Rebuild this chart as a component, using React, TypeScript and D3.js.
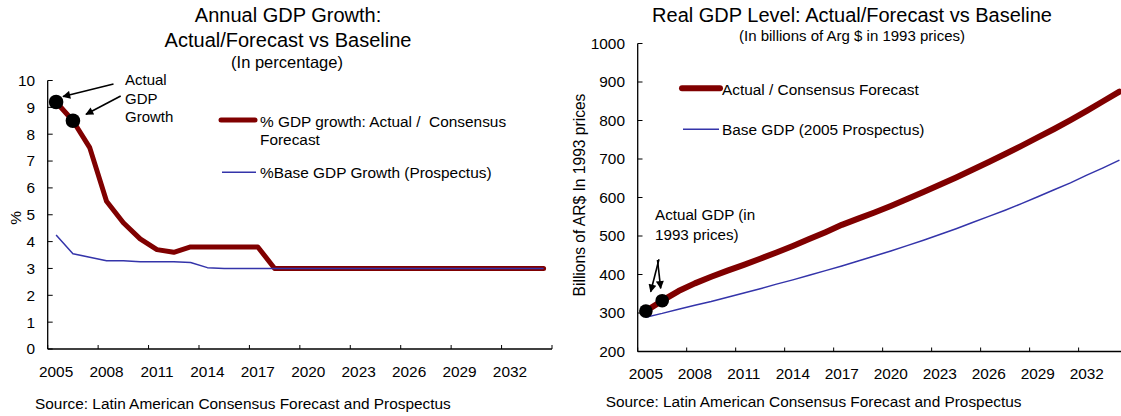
import React from "react";
import * as d3 from "d3";

const years = [2005, 2006, 2007, 2008, 2009, 2010, 2011, 2012, 2013, 2014, 2015, 2016, 2017, 2018, 2019, 2020, 2021, 2022, 2023, 2024, 2025, 2026, 2027, 2028, 2029, 2030, 2031, 2032, 2033, 2034];
const tickYears = [2005, 2008, 2011, 2014, 2017, 2020, 2023, 2026, 2029, 2032];

const growthActual = [9.2, 8.5, 7.5, 5.5, 4.7, 4.1, 3.7, 3.6, 3.8, 3.8, 3.8, 3.8, 3.8, 3.0, 3.0, 3.0, 3.0, 3.0, 3.0, 3.0, 3.0, 3.0, 3.0, 3.0, 3.0, 3.0, 3.0, 3.0, 3.0, 3.0];
const growthBase = [4.25, 3.55, 3.42, 3.29, 3.29, 3.25, 3.25, 3.25, 3.22, 3.03, 3.0, 3.0, 3.0, 3.0, 3.0, 3.0, 3.0, 3.0, 3.0, 3.0, 3.0, 3.0, 3.0, 3.0, 3.0, 3.0, 3.0, 3.0, 3.0, 3.0];

const gdpActual = [305, 332, 357, 377, 394, 410, 425, 441, 457, 474, 492, 510, 529, 545, 561, 578, 596, 614, 633, 652, 672, 692, 713, 734, 756, 778, 801, 825, 850, 875];
const gdpBase = [289, 299, 310, 320, 330, 341, 352, 363, 375, 386, 398, 410, 422, 435, 448, 461, 475, 489, 504, 519, 535, 551, 567, 584, 602, 620, 638, 658, 677, 697];

const growthTicks = [0, 1, 2, 3, 4, 5, 6, 7, 8, 9, 10];
const gdpTicks = [200, 300, 400, 500, 600, 700, 800, 900, 1000];

const actualMarkers = [2005, 2006];

const FONT = "'Liberation Sans', Arial, Helvetica, sans-serif";
const RED = "#800000";
const BLUE = "#3434aa";
const FS = 15.4;
const TITLE_FS = 20;

function Arrow({ x1, y1, x2, y2 }: { x1: number; y1: number; x2: number; y2: number }) {
  return <line x1={x1} y1={y1} x2={x2} y2={y2} stroke="#000" strokeWidth={1.6} markerEnd="url(#arrowhead)" />;
}

export default function App() {
  // Left chart scales
  const xL = d3.scaleBand<number>().domain(years).range([47.7, 552]).padding(0);
  const yL = d3.scaleLinear().domain([0, 10]).range([349, 80.5]);
  const cxL = (y: number) => (xL(y) as number) + xL.bandwidth() / 2;

  // Right chart scales
  const xR = d3.scaleBand<number>().domain(years).range([637.7, 637.7 + 30 * 16.33]).padding(0);
  const yR = d3.scaleLinear().domain([200, 1000]).range([351.5, 43.5]);
  const cxR = (y: number) => (xR(y) as number) + xR.bandwidth() / 2;

  const lineL = (vals: number[]) =>
    d3.line<number>().x((_, i) => cxL(years[i])).y((d) => yL(d))(vals) || "";
  const lineR = (vals: number[]) =>
    d3.line<number>().x((_, i) => cxR(years[i])).y((d) => yR(d))(vals) || "";

  const leftTickXs = [...tickYears.map((y) => xL(y) as number), xL.range()[1]];
  const rightTickXs = [...tickYears.map((y) => xR(y) as number)];

  return (
    <svg width={1121} height={416} style={{ position: "absolute", left: 0, top: 0, background: "#fff" }} fontFamily={FONT}>
      <defs>
        <marker id="arrowhead" viewBox="0 0 10 10" refX="9" refY="5" markerWidth="10.5" markerHeight="8" markerUnits="userSpaceOnUse" orient="auto">
          <path d="M0,0 L10,5 L0,10 z" fill="#000" />
        </marker>
      </defs>
      <rect x={0} y={0} width={1121} height={416} fill="#fff" />

      {/* ===== LEFT CHART ===== */}
      <text x={288} y={21.5} fontSize={TITLE_FS} textAnchor="middle">Annual GDP Growth:</text>
      <text x={288} y={46.5} fontSize={TITLE_FS} textAnchor="middle">Actual/Forecast vs Baseline</text>
      <text x={287} y={62} dy="0.35em" fontSize={16.5} textAnchor="middle">(In percentage)</text>

      {/* axes */}
      <line x1={47.7} y1={yL(10)} x2={47.7} y2={yL(0)} stroke="#000" strokeWidth={1.3} />
      <line x1={47.7} y1={yL(0)} x2={xL.range()[1]} y2={yL(0)} stroke="#000" strokeWidth={1.3} />
      {growthTicks.map((t) => (
        <g key={t}>
          <line x1={47.7} x2={52.7} y1={yL(t)} y2={yL(t)} stroke="#000" strokeWidth={1} />
          <text x={35} y={yL(t)} dy="0.35em" fontSize={FS} textAnchor="end">{t}</text>
        </g>
      ))}
      {leftTickXs.map((x, i) => (
        <line key={i} x1={x} x2={x} y1={yL(0)} y2={yL(0) - 4} stroke="#000" strokeWidth={1} />
      ))}
      {tickYears.map((y) => (
        <text key={y} x={cxL(y)} y={371.7} dy="0.35em" fontSize={FS} textAnchor="middle">{y}</text>
      ))}
      <text transform="translate(16,218) rotate(-90)" fontSize={FS} textAnchor="middle" dy="0.35em">%</text>

      {/* series */}
      <path d={lineL(growthActual)} fill="none" stroke={RED} strokeWidth={5} strokeLinejoin="round" strokeLinecap="round" />
      <path d={lineL(growthBase)} fill="none" stroke={BLUE} strokeWidth={1.5} strokeLinejoin="round" />
      {actualMarkers.map((y) => (
        <circle key={y} cx={cxL(y)} cy={yL(growthActual[years.indexOf(y)])} r={7.3} fill="#000" />
      ))}

      {/* legend */}
      <line x1={221} x2={255} y1={120} y2={120} stroke={RED} strokeWidth={5} strokeLinecap="round" />
      <text x={260} y={121.7} dy="0.35em" fontSize={FS} xmlSpace="preserve">{"% GDP growth: Actual /  Consensus"}</text>
      <text x={260} y={140} dy="0.35em" fontSize={FS}>Forecast</text>
      <line x1={222} x2={256} y1={172.3} y2={172.3} stroke={BLUE} strokeWidth={1.5} />
      <text x={260} y={172.3} dy="0.35em" fontSize={FS}>%Base GDP Growth (Prospectus)</text>

      {/* annotation */}
      <text x={125} y={79.3} dy="0.35em" fontSize={15}>Actual</text>
      <text x={125} y={98.3} dy="0.35em" fontSize={15}>GDP</text>
      <text x={125} y={116.7} dy="0.35em" fontSize={15}>Growth</text>
      <Arrow x1={113.5} y1={84} x2={63} y2={96.5} />
      <Arrow x1={120.7} y1={96} x2={86} y2={114.3} />

      <text x={35} y={403.3} dy="0.35em" fontSize={FS}>Source: Latin American Consensus Forecast and Prospectus</text>

      {/* ===== RIGHT CHART ===== */}
      <text x={852} y={21.5} fontSize={TITLE_FS} textAnchor="middle">Real GDP Level: Actual/Forecast vs Baseline</text>
      <text x={852} y={36} dy="0.35em" fontSize={15} textAnchor="middle">(In billions of Arg $ in 1993 prices)</text>

      <line x1={637.7} y1={yR(1000)} x2={637.7} y2={yR(200)} stroke="#000" strokeWidth={1.3} />
      <line x1={637.7} y1={yR(200)} x2={1121} y2={yR(200)} stroke="#000" strokeWidth={1.3} />
      {gdpTicks.map((t) => (
        <g key={t}>
          <line x1={637.7} x2={642.5} y1={yR(t)} y2={yR(t)} stroke="#000" strokeWidth={1} />
          <text x={625} y={yR(t)} dy="0.35em" fontSize={FS} textAnchor="end">{t}</text>
        </g>
      ))}
      {rightTickXs.map((x, i) => (
        <line key={i} x1={x} x2={x} y1={yR(200)} y2={yR(200) - 4} stroke="#000" strokeWidth={1} />
      ))}
      {tickYears.map((y) => (
        <text key={y} x={cxR(y)} y={373.3} dy="0.35em" fontSize={FS} textAnchor="middle">{y}</text>
      ))}
      <text transform="translate(579.5,195) rotate(-90)" fontSize={15.6} textAnchor="middle" dy="0.35em">Billions of AR$ In 1993 prices</text>

      <path d={lineR(gdpActual)} fill="none" stroke={RED} strokeWidth={6} strokeLinejoin="round" strokeLinecap="round" />
      <path d={lineR(gdpBase)} fill="none" stroke={BLUE} strokeWidth={1.5} strokeLinejoin="round" />
      {actualMarkers.map((y) => (
        <circle key={y} cx={cxR(y)} cy={yR(gdpActual[years.indexOf(y)])} r={6.8} fill="#000" />
      ))}

      <line x1={682} x2={720} y1={88.3} y2={88.3} stroke={RED} strokeWidth={6} strokeLinecap="round" />
      <text x={722} y={89.5} dy="0.35em" fontSize={FS}>Actual / Consensus Forecast</text>
      <line x1={683} x2={719} y1={129.3} y2={129.3} stroke={BLUE} strokeWidth={1.5} />
      <text x={722} y={130} dy="0.35em" fontSize={FS}>Base GDP (2005 Prospectus)</text>

      <text x={655} y={215} dy="0.35em" fontSize={15.2}>Actual GDP (in</text>
      <text x={655} y={234.3} dy="0.35em" fontSize={15.2}>1993 prices)</text>
      <Arrow x1={659} y1={259.3} x2={650.7} y2={291.7} />
      <Arrow x1={657.5} y1={260} x2={660.7} y2={288.3} />

      <text x={605.7} y={401.7} dy="0.35em" fontSize={FS}>Source: Latin American Consensus Forecast and Prospectus</text>
    </svg>
  );
}
